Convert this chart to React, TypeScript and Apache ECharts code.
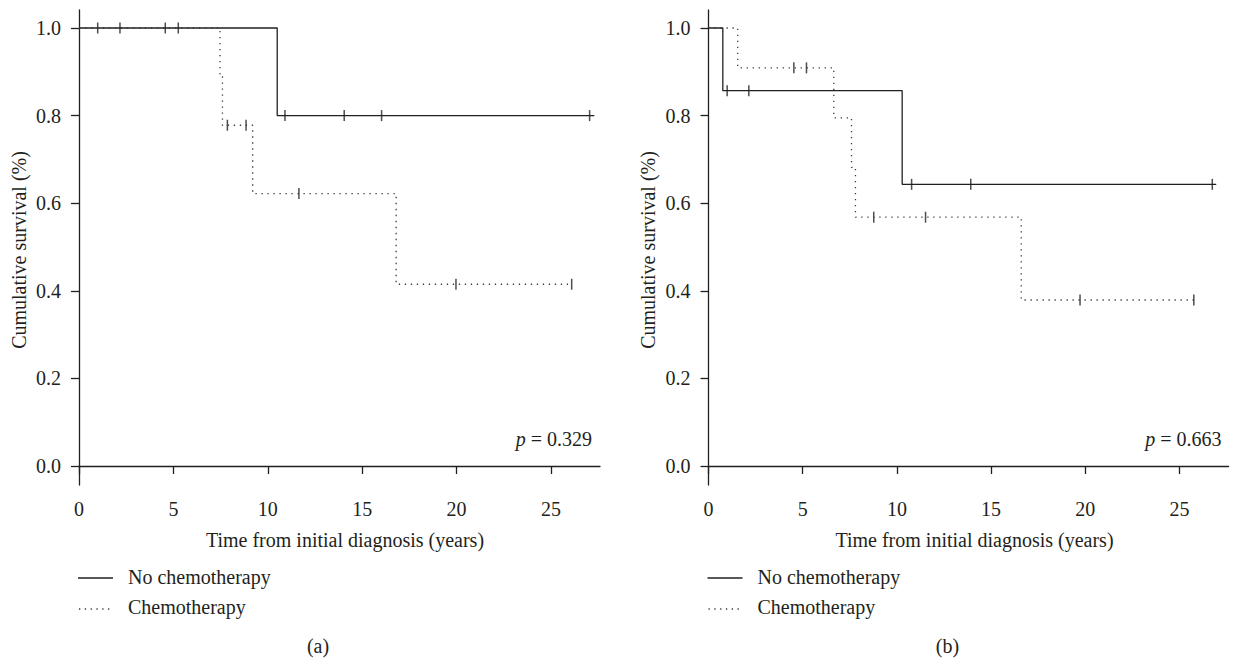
import React, { useEffect, useRef } from "react";
import * as echarts from "echarts";

// ---- data ----
const X_TICKS = [0, 5, 10, 15, 20, 25];
const Y_TICKS = [0, 0.2, 0.4, 0.6, 0.8, 1.0];
const X_MAX = 27.6;
const Y_MIN = -0.0434;
const Y_MAX = 1.0411;

// panel (a)
const noChemoA = [[0, 1], [10.5, 0.8], [27.3, 0.8]];
const chemoA = [[0, 1], [7.47, 0.889], [7.6, 0.778], [9.2, 0.622], [16.8, 0.415], [26.1, 0.415]];
const censorNoChemoA = [[0.99, 1], [2.17, 1], [4.57, 1], [5.26, 1], [10.91, 0.8], [14.05, 0.8], [16.03, 0.8], [27.05, 0.8]];
const censorChemoA = [[7.86, 0.778], [8.85, 0.778], [11.65, 0.622], [19.97, 0.415], [26.1, 0.415]];

// panel (b)
const noChemoB = [[0, 1], [0.76, 0.857], [10.28, 0.643], [26.95, 0.643]];
const chemoB = [[0, 1], [1.55, 0.909], [6.65, 0.795], [7.59, 0.682], [7.8, 0.568], [16.6, 0.379], [26.0, 0.379]];
const censorNoChemoB = [[0.99, 0.857], [2.14, 0.857], [10.78, 0.643], [13.92, 0.643], [26.74, 0.643]];
const censorChemoB = [[4.53, 0.909], [5.2, 0.909], [8.77, 0.568], [11.52, 0.568], [19.72, 0.379], [25.76, 0.379]];

const PANEL_LABELS = ["(a)", "(b)"];
const P_VALUES = ["0.329", "0.663"];
const LEGEND_NAMES = ["No chemotherapy", "Chemotherapy"];
const X_NAME = "Time from initial diagnosis (years)";
const Y_NAME = "Cumulative survival (%)";

const INK = "#231f20";
const DOT = "#3a3a3a";
const FONT = "'Liberation Serif', 'DejaVu Serif', serif";
const FS = 20;

export default function App() {
  const ref = useRef<HTMLDivElement>(null);

  useEffect(() => {
    document.body.style.margin = "0";
    if (!ref.current) return;
    const chart = echarts.init(ref.current, undefined, { renderer: "svg" });

    const grids = [
      { left: 79, top: 10, width: 521, height: 475 },
      { left: 708.5, top: 10, width: 520, height: 475 },
    ];
    const offsets = [0, 629.5];

    const xAxis = grids.map((_, i) => ({
      gridIndex: i,
      type: "value",
      min: 0,
      max: X_MAX,
      axisLine: { show: true, lineStyle: { color: INK, width: 1.3 } },
      axisTick: { show: true, inside: false, length: 8, customValues: X_TICKS, lineStyle: { color: INK, width: 1.3 } },
      axisLabel: { customValues: X_TICKS, margin: 14, fontFamily: FONT, fontSize: FS, color: INK },
      splitLine: { show: false },
    }));

    const yAxis = grids.map((_, i) => ({
      gridIndex: i,
      type: "value",
      min: Y_MIN,
      max: Y_MAX,
      axisLine: { show: true, lineStyle: { color: INK, width: 1.3 } },
      axisTick: { show: true, inside: false, length: 8, customValues: Y_TICKS, lineStyle: { color: INK, width: 1.3 } },
      axisLabel: {
        customValues: Y_TICKS,
        margin: 18,
        fontFamily: FONT,
        fontSize: FS,
        color: INK,
        formatter: (v: number) => v.toFixed(1),
      },
      splitLine: { show: false },
    }));

    const panels = [
      { solid: noChemoA, dotted: chemoA, cs: censorNoChemoA, cd: censorChemoA },
      { solid: noChemoB, dotted: chemoB, cs: censorNoChemoB, cd: censorChemoB },
    ];

    const series: any[] = [];
    panels.forEach((p, i) => {
      series.push({
        type: "line",
        name: LEGEND_NAMES[0],
        xAxisIndex: i,
        yAxisIndex: i,
        step: "end",
        data: p.solid,
        symbol: "none",
        silent: true,
        lineStyle: { color: INK, width: 1.3, type: "solid" },
      });
      series.push({
        type: "line",
        name: LEGEND_NAMES[1],
        xAxisIndex: i,
        yAxisIndex: i,
        step: "end",
        data: p.dotted,
        symbol: "none",
        silent: true,
        lineStyle: { color: DOT, width: 1.3, type: [1.3, 4.7] },
      });
      series.push({
        type: "scatter",
        xAxisIndex: i,
        yAxisIndex: i,
        data: p.cs,
        symbol: "rect",
        symbolSize: [1.5, 11],
        silent: true,
        itemStyle: { color: INK },
      });
      series.push({
        type: "scatter",
        xAxisIndex: i,
        yAxisIndex: i,
        data: p.cd,
        symbol: "rect",
        symbolSize: [1.5, 11],
        silent: true,
        itemStyle: { color: INK },
      });
    });

    const graphic: any[] = [];
    offsets.forEach((dx, i) => {
      graphic.push({
        type: "text",
        x: 18.5 + dx,
        y: 250,
        rotation: Math.PI / 2,
        style: { text: Y_NAME, font: `${FS}px ${FONT}`, fill: INK, align: "center", verticalAlign: "middle" },
      });
      graphic.push({
        type: "text",
        x: 345 + dx,
        y: 540,
        style: { text: X_NAME, font: `${FS}px ${FONT}`, fill: INK, align: "center", verticalAlign: "middle" },
      });
      graphic.push({
        type: "text",
        x: 592 + dx,
        y: 439,
        style: {
          text: `{i|p} = ${P_VALUES[i]}`,
          font: `${FS}px ${FONT}`,
          fill: INK,
          align: "right",
          verticalAlign: "middle",
          rich: { i: { fontStyle: "italic", fontFamily: FONT, fontSize: FS, fill: INK } },
        },
      });
      graphic.push({
        type: "line",
        shape: { x1: 78 + dx, y1: 578, x2: 113 + dx, y2: 578 },
        style: { stroke: INK, lineWidth: 1.3 },
      });
      graphic.push({
        type: "text",
        x: 128 + dx,
        y: 577,
        style: { text: LEGEND_NAMES[0], font: `${FS}px ${FONT}`, fill: INK, align: "left", verticalAlign: "middle" },
      });
      graphic.push({
        type: "line",
        shape: { x1: 79 + dx, y1: 609, x2: 113 + dx, y2: 609 },
        style: { stroke: DOT, lineWidth: 1.3, lineDash: [1.3, 4.5] },
      });
      graphic.push({
        type: "text",
        x: 128 + dx,
        y: 607,
        style: { text: LEGEND_NAMES[1], font: `${FS}px ${FONT}`, fill: INK, align: "left", verticalAlign: "middle" },
      });
      graphic.push({
        type: "text",
        x: 318 + dx,
        y: 646,
        style: { text: PANEL_LABELS[i], font: `${FS}px ${FONT}`, fill: INK, align: "center", verticalAlign: "middle" },
      });
    });

    chart.setOption({
      animation: false,
      backgroundColor: "#ffffff",
      grid: grids,
      xAxis,
      yAxis,
      series,
      graphic,
    });

    return () => {
      chart.dispose();
    };
  }, []);

  return <div ref={ref} style={{ width: 1234, height: 663 }} />;
}
